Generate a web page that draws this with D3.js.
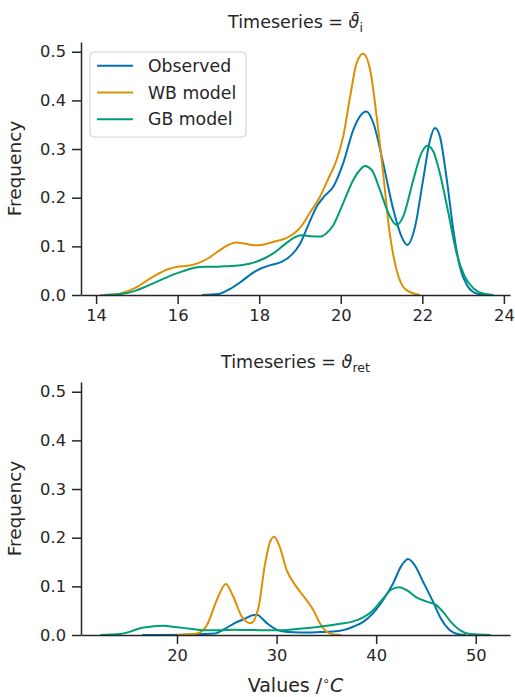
<!DOCTYPE html>
<html><head><meta charset="utf-8">
<script src="https://cdn.jsdelivr.net/npm/d3@7"></script>
<style>
body{margin:0;background:#fff;}
text{font-family:"DejaVu Sans",sans-serif;fill:#262626;}
</style></head>
<body><svg id="c" width="515" height="697"></svg>
<script>
const seriesNames = ["Observed","WB model","GB model"];
const seriesColors = ["#0173b2","#de8f05","#029e73"];
const yTicks = [0,0.1,0.2,0.3,0.4,0.5];
const topXTicks = [14,16,18,20,22,24];
const bottomXTicks = [20,30,40,50];

const topObserved = [[16.6,0],[17.0,0.002],[17.3,0.013],[17.55,0.027],[17.8,0.043],[18.05,0.055],[18.3,0.062],[18.55,0.068],[18.8,0.083],[19.0,0.105],[19.2,0.143],[19.41,0.182],[19.6,0.203],[19.82,0.223],[20.06,0.271],[20.31,0.34],[20.47,0.367],[20.63,0.377],[20.8,0.353],[21.04,0.271],[21.29,0.175],[21.49,0.12],[21.63,0.103],[21.82,0.14],[22.02,0.237],[22.19,0.319],[22.31,0.343],[22.43,0.326],[22.6,0.237],[22.76,0.134],[22.92,0.058],[23.09,0.021],[23.33,0.003],[23.6,0]];
const topWB = [[14.1,0],[14.45,0.001],[14.78,0.008],[15.02,0.017],[15.27,0.031],[15.51,0.043],[15.76,0.053],[16.0,0.058],[16.25,0.06],[16.49,0.065],[16.74,0.075],[16.98,0.089],[17.22,0.102],[17.43,0.108],[17.63,0.106],[17.88,0.102],[18.12,0.104],[18.37,0.11],[18.61,0.115],[18.86,0.127],[19.02,0.14],[19.25,0.17],[19.49,0.202],[19.7,0.24],[19.9,0.278],[20.06,0.326],[20.23,0.408],[20.39,0.477],[20.55,0.496],[20.72,0.463],[20.88,0.367],[21.04,0.25],[21.2,0.127],[21.37,0.051],[21.61,0.01],[21.94,0]];
const topGB = [[14.2,0],[14.61,0.002],[14.94,0.008],[15.18,0.016],[15.43,0.025],[15.67,0.034],[15.92,0.043],[16.17,0.05],[16.41,0.056],[16.66,0.058],[16.9,0.058],[17.15,0.059],[17.39,0.06],[17.63,0.062],[17.88,0.067],[18.12,0.075],[18.37,0.087],[18.61,0.103],[18.86,0.118],[19.02,0.123],[19.25,0.121],[19.49,0.12],[19.65,0.127],[19.82,0.144],[20.06,0.189],[20.31,0.237],[20.47,0.257],[20.59,0.265],[20.76,0.257],[20.96,0.216],[21.17,0.168],[21.37,0.144],[21.53,0.161],[21.78,0.237],[21.98,0.292],[22.12,0.307],[22.27,0.295],[22.43,0.25],[22.64,0.168],[22.84,0.086],[23.04,0.038],[23.25,0.014],[23.49,0.003],[23.75,0]];

const bottomObserved = [[16.5,0],[21.4,0.001],[23.75,0.003],[24.75,0.012],[25.75,0.024],[26.76,0.033],[27.76,0.041],[28.1,0.041],[28.43,0.036],[29.1,0.023],[30.1,0.01],[31.1,0.006],[32.34,0.005],[34.35,0.006],[35.69,0.007],[36.7,0.01],[37.7,0.017],[38.7,0.027],[39.7,0.045],[40.7,0.072],[41.7,0.106],[42.5,0.141],[43.2,0.156],[43.85,0.144],[44.7,0.11],[45.7,0.069],[46.5,0.034],[47.4,0.01],[48.4,0.001],[49,0]];
const bottomWB = [[20,0],[22,0.003],[23,0.02],[24,0.072],[24.9,0.105],[25.65,0.079],[26.5,0.038],[27.4,0.024],[28.2,0.058],[28.8,0.141],[29.3,0.189],[29.75,0.202],[30.3,0.182],[31,0.134],[32,0.099],[33,0.072],[33.7,0.051],[34.35,0.024],[35,0.007],[35.7,0.001],[36.5,0]];
const bottomGB = [[12.3,0],[14.3,0.002],[15.3,0.007],[16.3,0.014],[17.3,0.017],[18.6,0.019],[20,0.016],[21.3,0.013],[22.6,0.01],[24.3,0.01],[25.7,0.011],[28.3,0.01],[30.3,0.01],[32.3,0.013],[34.3,0.017],[36.4,0.023],[37.7,0.028],[38.7,0.036],[39.7,0.051],[40.7,0.075],[41.5,0.093],[42.3,0.098],[43.0,0.093],[44.0,0.078],[45.0,0.069],[46.0,0.062],[46.7,0.048],[47.5,0.027],[48.4,0.01],[49.4,0.002],[51.5,0]];

const svg = d3.select("#c");
svg.append("rect").attr("width",515).attr("height",697).attr("fill","#fff");

const L = 81, R = 510;
const axisColor = "#262626";

function panel(cfg){
  const x = d3.scaleLinear().domain(cfg.xDomain).range([L,R]);
  const y = d3.scaleLinear().domain([0,0.52]).range([cfg.bottom, cfg.bottom-253]);
  const g = svg.append("g");
  const line = d3.line().x(d=>x(d[0])).y(d=>y(d[1])).curve(d3.curveMonotoneX);
  cfg.series.forEach((s,i)=>{
    g.append("path").datum(s).attr("d",line).attr("fill","none")
     .attr("stroke",seriesColors[i]).attr("stroke-width",2).attr("stroke-linejoin","round");
  });
  const ya = g.append("g").attr("transform",`translate(${L},0)`)
    .call(d3.axisLeft(y).tickValues(yTicks).tickFormat(d3.format(".1f")).tickSize(9).tickSizeOuter(0).tickPadding(6));
  const xa = g.append("g").attr("transform",`translate(0,${cfg.bottom})`)
    .call(d3.axisBottom(x).tickValues(cfg.xTicks).tickSize(9).tickSizeOuter(0).tickPadding(5));
  [ya,xa].forEach(a=>{
    a.select(".domain").attr("stroke",axisColor).attr("stroke-width",1.5);
    a.selectAll(".tick line").attr("stroke",axisColor).attr("stroke-width",1.5);
    a.selectAll(".tick text").attr("font-size",16.3).attr("font-family","DejaVu Sans").attr("fill","#262626");
  });
  g.append("text").attr("transform",`translate(21,${cfg.bottom-126.5}) rotate(-90)`)
    .attr("text-anchor","middle").attr("font-size",18.5).text("Frequency");
  const t = g.append("text").attr("x",(L+R)/2).attr("y",cfg.bottom-267).attr("text-anchor","middle").attr("font-size",17.5);
  t.append("tspan").text("Timeseries = ");
  t.append("tspan").attr("font-style","italic").text(cfg.sym);
  t.append("tspan").attr("font-size",12.5).attr("dy",4).text(cfg.sub);
  return {x,y,g};
}

panel({xDomain:[13.63,24.15],bottom:295,xTicks:topXTicks,series:[topObserved,topWB,topGB],sym:"\u03D1\u0304",sub:"i"});
panel({xDomain:[10.36,53.44],bottom:635,xTicks:bottomXTicks,series:[bottomObserved,bottomWB,bottomGB],sym:"\u03D1",sub:"ret"});

const xl = svg.append("text").attr("x",(L+R)/2).attr("y",692).attr("text-anchor","middle").attr("font-size",19);
xl.append("tspan").text("Values /");
xl.append("tspan").attr("font-size",12.5).attr("dy",-7).text("\u2218");
xl.append("tspan").attr("font-style","italic").attr("dy",7).text("C");

const lg = svg.append("g");
lg.append("rect").attr("x",90).attr("y",52).attr("width",156).attr("height",85).attr("rx",4)
  .attr("fill","#fff").attr("fill-opacity",0.8).attr("stroke","#d0d0d0").attr("stroke-width",1);
seriesNames.forEach((n,i)=>{
  const yy = 65.7 + i*26.8;
  lg.append("line").attr("x1",97).attr("x2",133).attr("y1",yy).attr("y2",yy)
    .attr("stroke",seriesColors[i]).attr("stroke-width",2);
  lg.append("text").attr("x",148).attr("y",yy+6).attr("font-size",17.3).text(n);
});
</script></body></html>
